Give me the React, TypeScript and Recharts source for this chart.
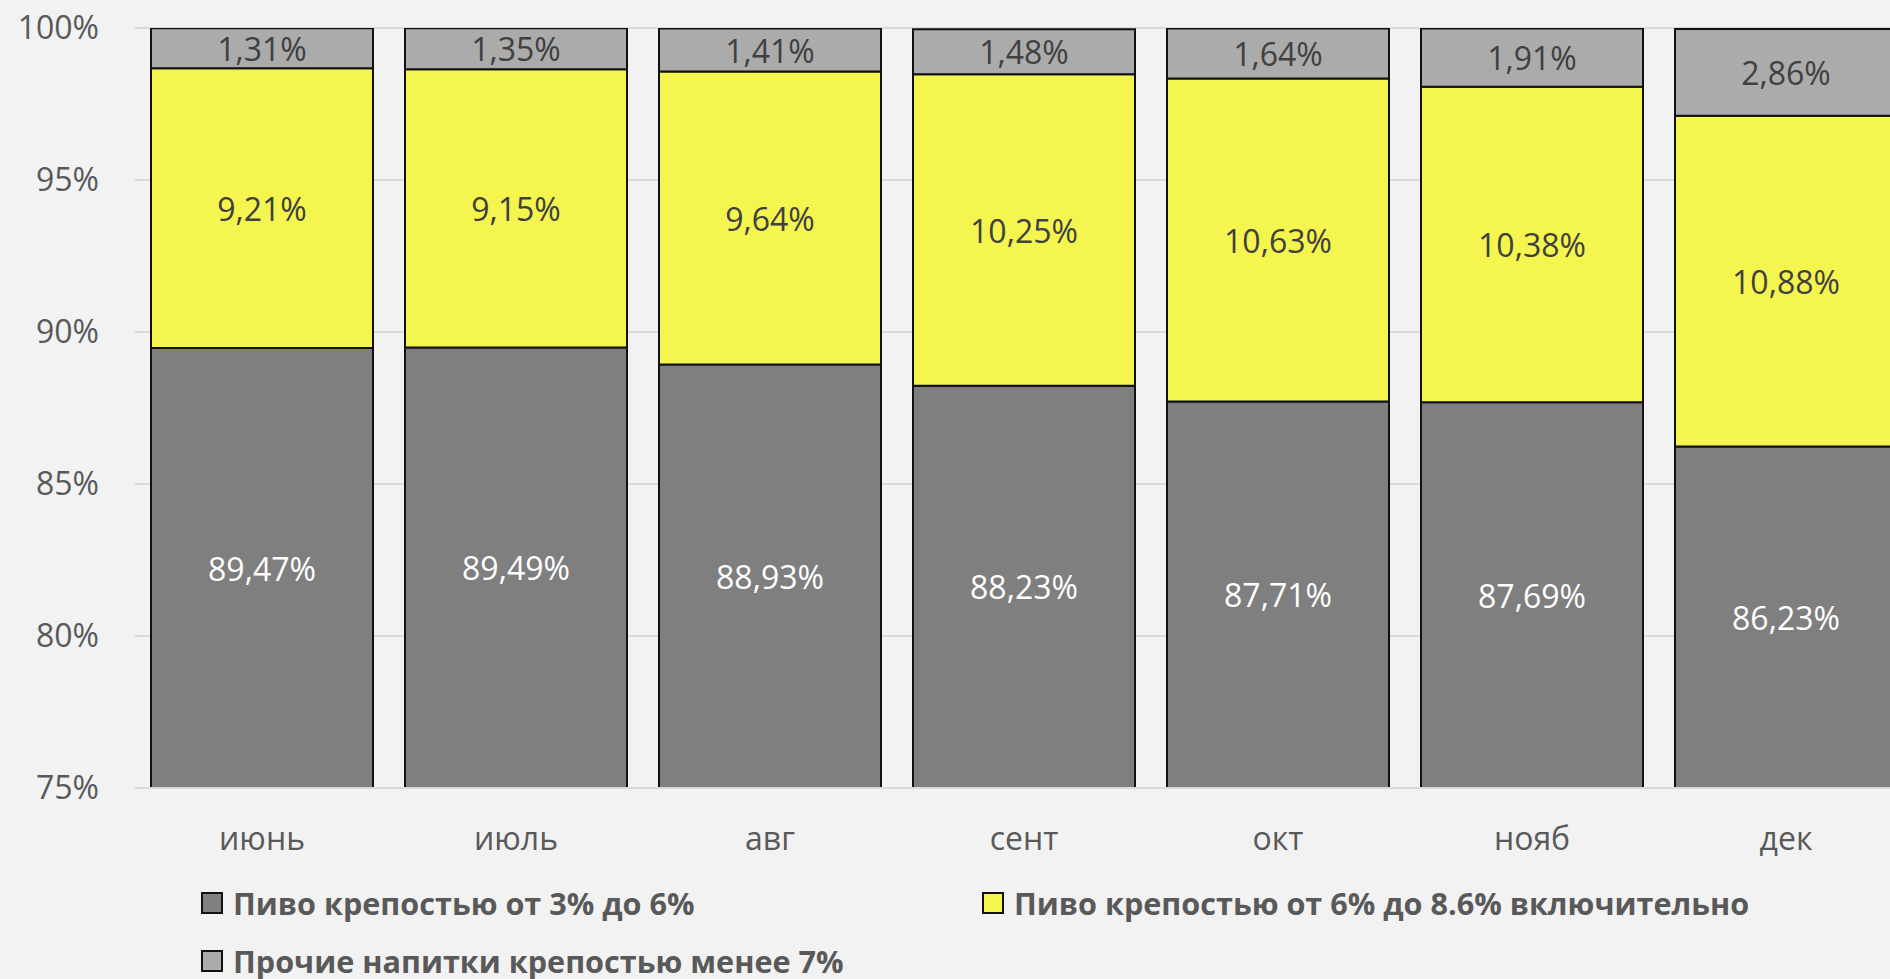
import React from "react"
import { Bar, BarChart, CartesianGrid, LabelList, XAxis, YAxis } from "recharts"

const months = ["июнь", "июль", "авг", "сент", "окт", "нояб", "дек"]
const beer3to6 = [89.47, 89.49, 88.93, 88.23, 87.71, 87.69, 86.23]
const beer6to86 = [9.21, 9.15, 9.64, 10.25, 10.63, 10.38, 10.88]
const otherDrinks = [1.31, 1.35, 1.41, 1.48, 1.64, 1.91, 2.86]
const yTicks = [75, 80, 85, 90, 95, 100]

const series = [
  { key: "beer3to6", name: "Пиво крепостью от 3% до 6%", color: "#7f7f7f", text: "#ffffff" },
  { key: "beer6to86", name: "Пиво крепостью от 6% до 8.6% включительно", color: "#f5f54f", text: "#404040" },
  { key: "other", name: "Прочие напитки крепостью менее 7%", color: "#ababab", text: "#404040" },
]

const data = months.map((m, i) => ({
  month: m,
  beer3to6: beer3to6[i],
  beer6to86: beer6to86[i],
  other: otherDrinks[i],
}))

const FONT = "'Open Sans', sans-serif"
const CHART_H = 979
const MARGIN = { top: 28, right: 7, left: 0, bottom: 131 }
const X_AXIS_H = 60
const PLOT_TOP = MARGIN.top
const PLOT_BOTTOM = CHART_H - MARGIN.bottom - X_AXIS_H

const fmt = (v: number) => v.toFixed(2).replace(".", ",") + "%"

// label centred in the visible part of the segment (bars are clipped at 75%)
const makeLabel = (color: string) => (props: any) => {
  const { x, y, width, height, value } = props
  const top = Math.max(Math.min(y, y + height), PLOT_TOP)
  const bottom = Math.min(Math.max(y, y + height), PLOT_BOTTOM)
  if (bottom <= top) return null
  return (
    <text
      x={x + width / 2}
      y={(top + bottom) / 2}
      textAnchor="middle"
      dominantBaseline="central"
      fill={color}
      fontSize={32}
      fontFamily={FONT}
    >
      {fmt(Number(value))}
    </text>
  )
}

const legendPos = [
  { left: 201, top: 903 },
  { left: 982, top: 903 },
  { left: 201, top: 961 },
]

export default function App() {
  return (
    <div
      style={{
        position: "fixed",
        left: 0,
        top: 0,
        width: 1890,
        height: CHART_H,
        overflow: "hidden",
        background: "#f2f2f2",
        fontFamily: FONT,
      }}
    >
      <BarChart width={1920} height={CHART_H} data={data} margin={MARGIN} barSize={222}>
        <CartesianGrid vertical={false} stroke="#d9d9d9" strokeWidth={2} />
        <XAxis
          dataKey="month"
          height={X_AXIS_H}
          axisLine={{ stroke: "#d9d9d9", strokeWidth: 2 }}
          tickLine={false}
          tickSize={0}
          tickMargin={39}
          tick={{ fill: "#595959", fontSize: 32, fontFamily: FONT }}
        />
        <YAxis
          type="number"
          domain={[75, 100]}
          ticks={yTicks}
          allowDataOverflow
          width={135}
          axisLine={false}
          tickLine={false}
          tickSize={0}
          tickMargin={36}
          tickFormatter={(v) => v + "%"}
          tick={{ fill: "#595959", fontSize: 32, fontFamily: FONT }}
        />
        {series.map((s) => (
          <Bar
            key={s.key}
            dataKey={s.key}
            name={s.name}
            stackId="a"
            fill={s.color}
            stroke="#111111"
            strokeWidth={2}
            isAnimationActive={false}
          >
            <LabelList dataKey={s.key} content={makeLabel(s.text)} />
          </Bar>
        ))}
      </BarChart>
      {series.map((s, i) => (
        <div
          key={s.key}
          style={{
            position: "absolute",
            left: legendPos[i].left,
            top: legendPos[i].top,
            transform: "translateY(-50%)",
            display: "flex",
            alignItems: "center",
            whiteSpace: "nowrap",
          }}
        >
          <span
            style={{
              display: "inline-block",
              width: 18,
              height: 18,
              background: s.color,
              border: "2px solid #111",
              marginRight: 10,
            }}
          />
          <span style={{ fontSize: 30.6, fontWeight: 700, color: "#595959" }}>{s.name}</span>
        </div>
      ))}
    </div>
  )
}
